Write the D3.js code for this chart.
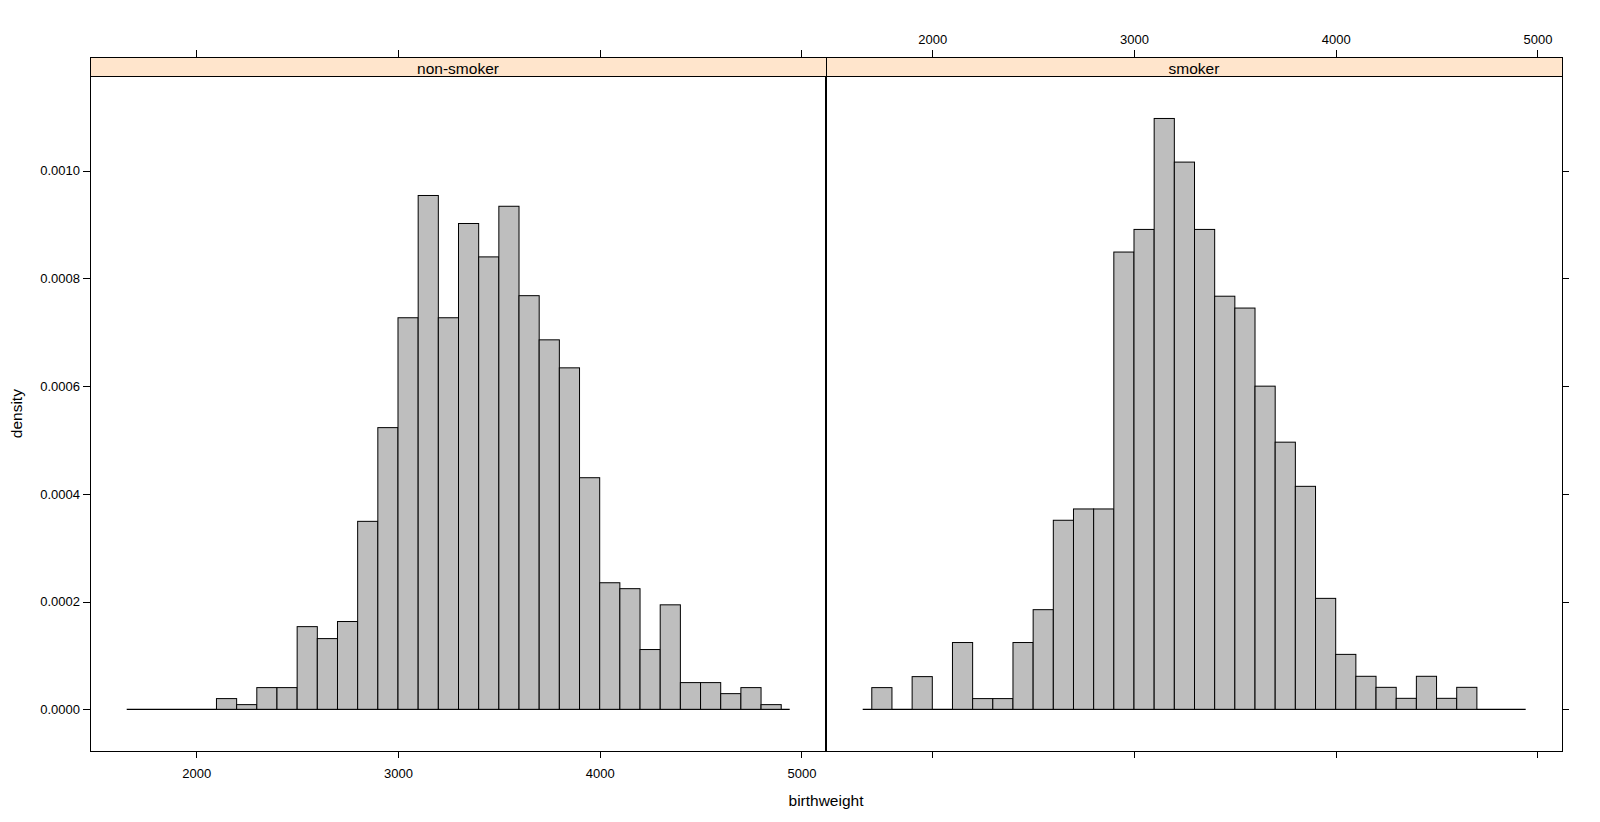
<!DOCTYPE html>
<html>
<head>
<meta charset="utf-8">
<script src="https://cdn.jsdelivr.net/npm/d3@7"></script>
<style>
	body { margin: 0; background: #fff; }
	text { font-family: "Liberation Sans", Arial, sans-serif; fill: #000; }
</style>
</head>
<body>
<div id="drawingboard"></div>
<script>
// panel names (strip labels)
var panels = ['non-smoker', 'smoker'];

// histogram bins: left edge of each bin, all bins 100 g wide
var binWidth = 100;
var nonSmokerBins = [2100, 2200, 2300, 2400, 2500, 2600, 2700, 2800, 2900, 3000,
	3100, 3200, 3300, 3400, 3500, 3600, 3700, 3800, 3900, 4000,
	4100, 4200, 4300, 4400, 4500, 4600, 4700, 4800];
var nonSmokerDensity = [0.0000199, 0.0000087, 0.0000403, 0.0000403, 0.0001535, 0.0001313, 0.000163, 0.000349, 0.000523, 0.000727,
	0.000954, 0.000727, 0.000902, 0.000840, 0.000934, 0.000768, 0.000686, 0.000634, 0.000430, 0.000235,
	0.000224, 0.000111, 0.000194, 0.0000496, 0.0000496, 0.0000291, 0.0000403, 0.0000087];

var smokerBins = [1700, 1800, 1900, 2000, 2100, 2200, 2300, 2400, 2500, 2600,
	2700, 2800, 2900, 3000, 3100, 3200, 3300, 3400, 3500, 3600,
	3700, 3800, 3900, 4000, 4100, 4200, 4300, 4400, 4500, 4600];
var smokerDensity = [0.0000403, 0, 0.0000607, 0, 0.000124, 0.0000199, 0.0000199, 0.000124, 0.000185, 0.000351,
	0.000372, 0.000372, 0.000849, 0.000891, 0.001097, 0.001016, 0.000891, 0.000767, 0.000745, 0.000600,
	0.000496, 0.000414, 0.000206, 0.000102, 0.0000613, 0.0000408, 0.0000204, 0.0000613, 0.0000204, 0.0000408];

// axis ticks and limits
var xTicks = [2000, 3000, 4000, 5000];
var yTicks = [0, 0.0002, 0.0004, 0.0006, 0.0008, 0.0010];
var xLim = [1473, 5122];
var yLim = [-0.0000774, 0.0011753];
var baselineRange = [1655, 4942];

var W = 1600, H = 822;
var panelLeft = [90, 826];
var panelWidth = 736;
var frameTop = 57;
var stripBottom = 76.3;
var panelBottom = 751;
var tickLen = 7;

var svg = d3.select('#drawingboard')
	.append('svg')
	.attr('width', W)
	.attr('height', H)
	.style('background-color', '#fff');

var y = d3.scaleLinear()
	.domain(yLim)
	.range([panelBottom, stripBottom]);

var yFmt = d3.format('.4f');

function drawPanel(i, bins, density) {
	var x = d3.scaleLinear()
		.domain(xLim)
		.range([panelLeft[i], panelLeft[i] + panelWidth]);

	var g = svg.append('g').attr('class', 'panel');

	// strip
	g.append('rect')
		.attr('x', panelLeft[i])
		.attr('y', frameTop)
		.attr('width', panelWidth)
		.attr('height', stripBottom - frameTop)
		.style('fill', '#ffe5cc')
		.style('stroke', '#000')
		.style('stroke-width', 1)
		.style('shape-rendering', 'crispEdges');

	g.append('text')
		.attr('x', panelLeft[i] + panelWidth / 2)
		.attr('y', (frameTop + stripBottom) / 2 + 2)
		.attr('dy', '0.36em')
		.attr('text-anchor', 'middle')
		.style('font-size', '15.5px')
		.text(panels[i]);

	// baseline
	g.append('line')
		.attr('x1', x(baselineRange[0]))
		.attr('x2', x(baselineRange[1]))
		.attr('y1', y(0))
		.attr('y2', y(0))
		.style('stroke', '#000')
		.style('stroke-width', 1.2);

	// bars
	g.selectAll('.bar')
		.data(bins.map(function(b, k) { return { x0: b, x1: b + binWidth, d: density[k] }; }))
		.enter().append('rect')
		.attr('class', 'bar')
		.attr('x', function(d) { return x(d.x0); })
		.attr('width', function(d) { return x(d.x1) - x(d.x0); })
		.attr('y', function(d) { return y(d.d); })
		.attr('height', function(d) { return y(0) - y(d.d); })
		.style('fill', '#bebebe')
		.style('stroke', '#000')
		.style('stroke-width', 1);

	// panel frame
	g.append('rect')
		.attr('x', panelLeft[i])
		.attr('y', stripBottom)
		.attr('width', panelWidth)
		.attr('height', panelBottom - stripBottom)
		.style('fill', 'none')
		.style('stroke', '#000')
		.style('stroke-width', 1)
		.style('shape-rendering', 'crispEdges');

	// bottom axis: labels on left panel only
	var bottom = d3.axisBottom(x)
		.tickValues(xTicks)
		.tickSize(tickLen)
		.tickPadding(11)
		.tickFormat(i === 0 ? d3.format('d') : '');
	var gb = svg.append('g')
		.attr('transform', 'translate(0,' + panelBottom + ')')
		.call(bottom);

	// top axis: labels on right panel only
	var top = d3.axisTop(x)
		.tickValues(xTicks)
		.tickSize(tickLen)
		.tickPadding(6)
		.tickFormat(i === 1 ? d3.format('d') : '');
	var gt = svg.append('g')
		.attr('transform', 'translate(0,' + frameTop + ')')
		.call(top);

	var gy;
	if (i === 0) {
		gy = svg.append('g')
			.attr('transform', 'translate(' + panelLeft[i] + ',0)')
			.call(d3.axisLeft(y).tickValues(yTicks).tickSize(tickLen).tickPadding(3).tickFormat(yFmt));
	} else {
		gy = svg.append('g')
			.attr('transform', 'translate(' + (panelLeft[i] + panelWidth) + ',0)')
			.call(d3.axisRight(y).tickValues(yTicks).tickSize(tickLen).tickFormat(''));
	}

	[gb, gt, gy].forEach(function(a) {
		a.select('.domain').remove();
		a.selectAll('line').style('stroke', '#000').style('shape-rendering', 'crispEdges');
		a.selectAll('text')
			.style('font-family', '"Liberation Sans", Arial, sans-serif')
			.style('font-size', '13px')
			.style('fill', '#000');
	});
}

drawPanel(0, nonSmokerBins, nonSmokerDensity);
drawPanel(1, smokerBins, smokerDensity);

// thicker divider where the two panel borders meet
svg.append('line')
	.attr('x1', panelLeft[1])
	.attr('x2', panelLeft[1])
	.attr('y1', stripBottom)
	.attr('y2', panelBottom)
	.style('stroke', '#000')
	.style('stroke-width', 2);

// axis titles
svg.append('text')
	.attr('x', (panelLeft[0] + panelLeft[1] + panelWidth) / 2)
	.attr('y', 800)
	.attr('dy', '0.36em')
	.attr('text-anchor', 'middle')
	.style('font-size', '15.5px')
	.text('birthweight');

svg.append('text')
	.attr('transform', 'translate(16,' + (stripBottom + panelBottom) / 2 + ') rotate(-90)')
	.attr('dy', '0.36em')
	.attr('text-anchor', 'middle')
	.style('font-size', '15.5px')
	.text('density');
</script>
</body>
</html>
